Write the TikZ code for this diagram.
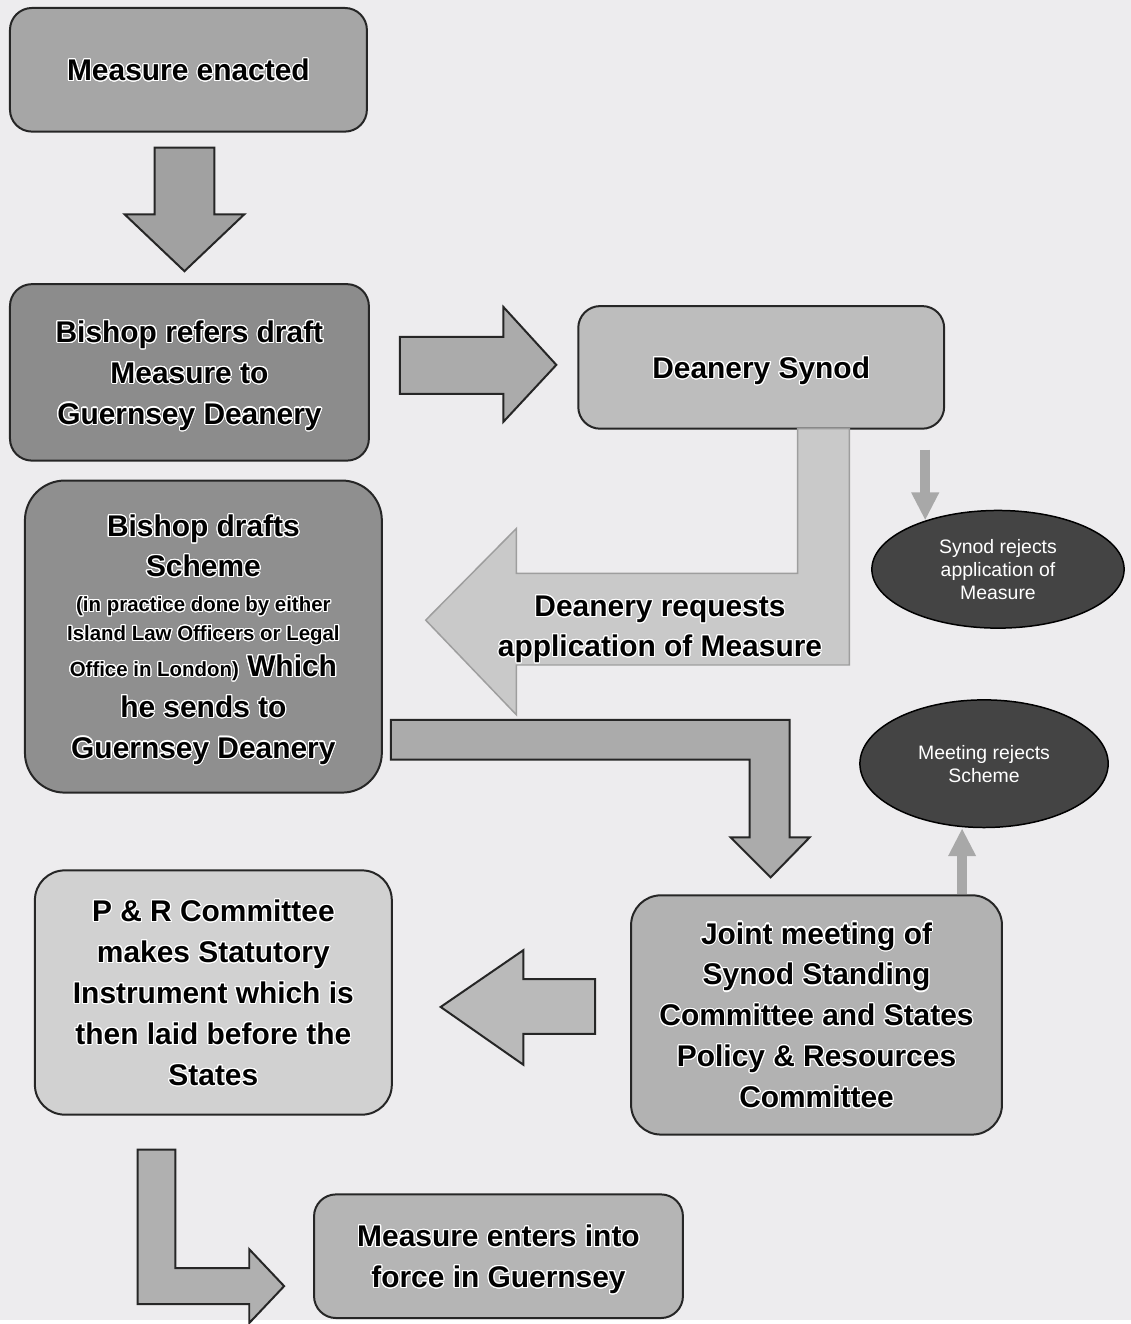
\documentclass[tikz,border=0pt]{standalone}
\usepackage{fontspec}
\setmainfont{Liberation Sans}
\usepackage{contour}
\usepackage{tikz}
\usetikzlibrary{positioning, shapes.geometric, arrows.meta}

\contourlength{1.1pt}
\contournumber{24}
\newcommand{\hl}[1]{\contour{white}{#1}}
\newcommand{\sml}{\fontsize{20.5}{29}\selectfont}

\definecolor{paper}{RGB}{237,236,238}
\definecolor{edge}{RGB}{38,38,38}
\definecolor{oval}{RGB}{68,68,68}
\definecolor{thingrey}{RGB}{168,168,168}

\tikzset{
  box/.style={draw=edge, line width=2pt, rounded corners=22pt, inner sep=0pt, align=center,
    text depth=0pt, font=\fontsize{30}{41}\selectfont\bfseries},
  reject/.style={ellipse, draw=black, line width=1.5pt, fill=oval, text=white, inner sep=0pt,
    align=center, font=\fontsize{19.5}{23}\selectfont},
  fatarrow/.style={draw=edge, line width=2pt, line join=miter},
  thinarrow/.style={draw=thingrey, line width=10pt, -{Triangle[width=26pt,length=28pt]}}
}

\begin{document}
\begin{tikzpicture}[x=1pt, y=-1pt]
    % Page
    \fill[paper] (0,0) rectangle (1134,1324);

    % Boxes
    \node[box, fill=black!35, minimum width=358pt, minimum height=124pt] (enacted) at (189,70)
      {\hl{Measure enacted}};
    \node[box, fill=black!45, minimum width=360pt, minimum height=177pt] (refers) at (190,373.5)
      {\hl{Bishop refers draft}\\ \hl{Measure to}\\ \hl{Guernsey Deanery}};
    \node[box, fill=black!26, minimum width=367pt, minimum height=123pt] (synod) at (763.5,368.5)
      {\hl{Deanery Synod}};
    \node[box, fill=black!44, rounded corners=40pt, minimum width=358pt, minimum height=313pt] (drafts) at (204,638.5)
      {\hl{Bishop drafts}\\[-1pt]
       \hl{Scheme}\\[-6pt]
       \hl{\sml (in practice done by either}\\[-12pt]
       \hl{\sml Island Law Officers or Legal}\\[-5pt]
       \hl{\sml Office in London)} \hl{Which}\\
       \hl{he sends to}\\
       \hl{Guernsey Deanery}};
    \node[box, fill=black!30, rounded corners=30pt, minimum width=372pt, minimum height=240pt] (joint) at (819,1018)
      {\hl{Joint meeting of}\\ \hl{Synod Standing}\\ \hl{Committee and States}\\
       \hl{Policy \& Resources}\\ \hl{Committee}};
    \node[box, fill=black!18, rounded corners=30pt, minimum width=358pt, minimum height=245pt] (pandr) at (214,995.5)
      {\hl{P \& R Committee}\\ \hl{makes Statutory}\\ \hl{Instrument which is}\\
       \hl{then laid before the}\\ \hl{States}};
    \node[box, fill=black!29, minimum width=370pt, minimum height=124pt] (enters) at (500,1260)
      {\hl{Measure enters into}\\ \hl{force in Guernsey}};

    % Rejections
    \node[reject, minimum width=253pt, minimum height=118pt] (rejA) at (1001,571)
      {Synod rejects\\ application of\\ Measure};
    \node[reject, minimum width=249pt, minimum height=128pt] (rejB) at (987,766)
      {Meeting rejects\\ Scheme};

    % Block arrows
    \draw[fatarrow, fill=black!37] (155,148) -- (215,148) -- (215,215) -- (245,215) -- (185,272)
      -- (125,215) -- (155,215) -- cycle;
    \draw[fatarrow, fill=black!33] (401,338) -- (505,338) -- (505,308) -- (558,366) -- (505,423)
      -- (505,395) -- (401,395) -- cycle;
    \draw[draw=black!38, line width=1.5pt, fill=black!21] (800,430) -- (852,430) -- (852,667) -- (518,667)
      -- (518,717) -- (427,622) -- (518,530) -- (518,575) -- (800,575) -- cycle;
    \draw[fatarrow, fill=black!33] (392,722) -- (792,722) -- (792,840) -- (812,840) -- (773,880)
      -- (733,840) -- (752,840) -- (752,762) -- (392,762) -- cycle;
    \draw[fatarrow, fill=black!27] (597,982) -- (525,982) -- (525,953) -- (442,1010) -- (525,1068)
      -- (525,1037) -- (597,1037) -- cycle;
    \draw[fatarrow, fill=black!31] (138,1153) -- (176,1153) -- (176,1272) -- (250,1272) -- (250,1253)
      -- (285,1290) -- (250,1327) -- (250,1308) -- (138,1308) -- cycle;

    % Label on the request arrow
    \node[align=center, text depth=0pt, font=\fontsize{30}{40}\selectfont\bfseries] (request) at (662,628)
      {\hl{Deanery requests}\\ \hl{application of Measure}};

    % Thin arrows to the rejections
    \draw[thinarrow] ([xshift=-20pt,yshift=-20pt]synod.south east) -- ([xshift=-20pt]synod.south east |- rejA.146);
    \draw[thinarrow] ([xshift=146pt]joint.north) -- ([xshift=146pt]joint.north |- rejB.south);

\end{tikzpicture}
\end{document}
